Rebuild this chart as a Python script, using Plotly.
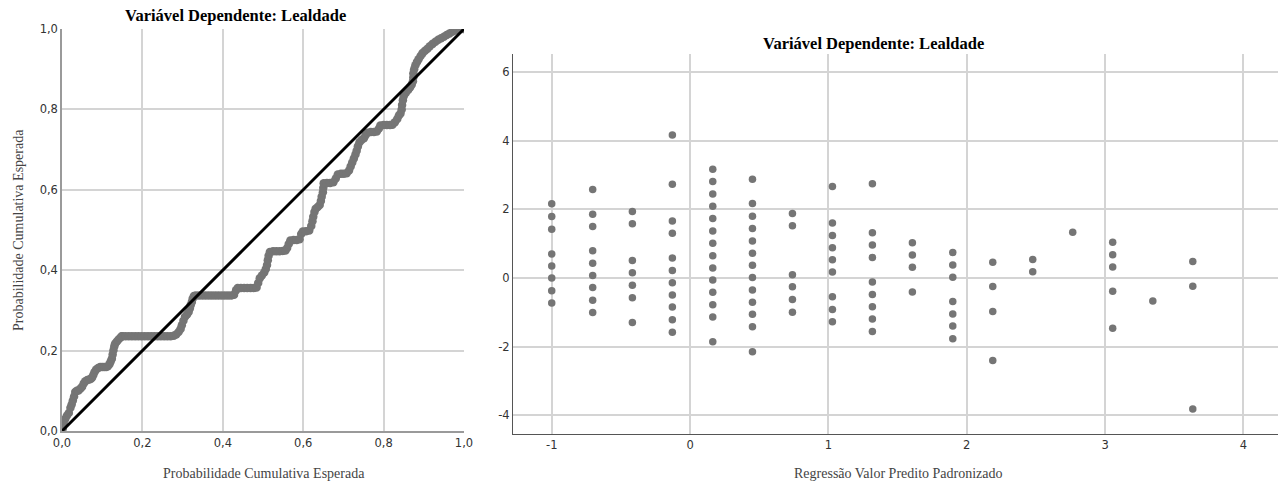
import plotly.graph_objects as go

# ---------------- Left panel: P-P plot ----------------
pp_observed = [
    0.002, 0.004, 0.008, 0.012, 0.017, 0.021, 0.024, 0.027, 0.030, 0.033,
    0.037, 0.041, 0.046, 0.050, 0.054, 0.058, 0.063, 0.068, 0.072, 0.075,
    0.078, 0.081, 0.085, 0.090, 0.095, 0.100, 0.105, 0.110, 0.114, 0.118,
    0.121, 0.124, 0.126, 0.128, 0.130, 0.132, 0.136, 0.140, 0.145, 0.149,
    0.150, 0.158, 0.166, 0.174, 0.182, 0.190, 0.198, 0.206, 0.214, 0.222,
    0.230, 0.238, 0.246, 0.254, 0.262, 0.270, 0.278,
    0.284, 0.290, 0.295, 0.298, 0.302, 0.306, 0.311, 0.315, 0.318, 0.320,
    0.323, 0.325, 0.328,
    0.333, 0.341, 0.349, 0.357, 0.365, 0.373, 0.381, 0.389, 0.397, 0.405,
    0.413, 0.421, 0.428,
    0.433, 0.437, 0.445, 0.453, 0.461, 0.469, 0.477, 0.484,
    0.488, 0.492, 0.497, 0.503, 0.507, 0.510, 0.512, 0.514, 0.517,
    0.525, 0.533, 0.541, 0.549, 0.556,
    0.560, 0.564, 0.568, 0.576, 0.584, 0.591,
    0.595, 0.599, 0.607, 0.615,
    0.620, 0.623, 0.625, 0.628, 0.631, 0.636, 0.641, 0.644, 0.646, 0.649,
    0.650, 0.651, 0.659, 0.667, 0.675, 0.681, 0.686, 0.694, 0.701, 0.708,
    0.714, 0.718, 0.722, 0.726, 0.730, 0.733, 0.736, 0.740, 0.745, 0.751,
    0.755, 0.760, 0.768, 0.776, 0.783, 0.788, 0.792, 0.800, 0.808, 0.816,
    0.822, 0.828, 0.834, 0.838, 0.842,
    0.845, 0.846, 0.848, 0.850, 0.855, 0.861, 0.866, 0.870, 0.873, 0.874,
    0.874, 0.876, 0.879, 0.883, 0.887, 0.892, 0.897, 0.903, 0.909, 0.915,
    0.922, 0.929, 0.936, 0.943, 0.950, 0.957, 0.964, 0.971, 0.978, 0.985,
    0.992, 0.998,
]
pp_expected = [
    0.006, 0.020, 0.030, 0.038, 0.045, 0.058, 0.066, 0.076, 0.086, 0.097,
    0.100, 0.101, 0.106, 0.110, 0.118, 0.124, 0.127, 0.128, 0.130, 0.133,
    0.140, 0.147, 0.153, 0.157, 0.159, 0.159, 0.159, 0.159, 0.161, 0.166,
    0.173, 0.180, 0.190, 0.201, 0.210, 0.217, 0.222, 0.227, 0.232, 0.236,
    0.236, 0.236, 0.236, 0.236, 0.236, 0.236, 0.236, 0.236, 0.236, 0.236,
    0.236, 0.236, 0.236, 0.236, 0.236, 0.236, 0.237,
    0.240, 0.246, 0.254, 0.263, 0.274, 0.284, 0.290, 0.296, 0.305, 0.313,
    0.321, 0.329, 0.336,
    0.337, 0.337, 0.337, 0.337, 0.337, 0.337, 0.337, 0.337, 0.337, 0.337,
    0.337, 0.337, 0.339,
    0.350, 0.356, 0.356, 0.356, 0.356, 0.356, 0.356, 0.357,
    0.368, 0.380, 0.387, 0.394, 0.403, 0.413, 0.425, 0.436, 0.445,
    0.447, 0.447, 0.447, 0.448, 0.449,
    0.455, 0.465, 0.474, 0.475, 0.475, 0.477,
    0.490, 0.496, 0.497, 0.499,
    0.510, 0.522, 0.533, 0.545, 0.553, 0.557, 0.562, 0.572, 0.583, 0.594,
    0.605, 0.616, 0.617, 0.617, 0.619, 0.628, 0.638, 0.640, 0.640, 0.641,
    0.648, 0.658, 0.668, 0.678, 0.688, 0.697, 0.708, 0.718, 0.724, 0.728,
    0.736, 0.742, 0.744, 0.744, 0.745, 0.752, 0.760, 0.761, 0.761, 0.761,
    0.762, 0.768, 0.776, 0.785, 0.790,
    0.800, 0.811, 0.823, 0.833, 0.841, 0.848, 0.855, 0.862, 0.870, 0.880,
    0.890, 0.900, 0.910, 0.918, 0.925, 0.933, 0.940, 0.946, 0.951, 0.957,
    0.963, 0.968, 0.973, 0.977, 0.981, 0.985, 0.989, 0.993, 0.996, 0.998,
    1.000, 1.000,
]
ref_line = [0.0, 1.0]
pp_ticks = [0.0, 0.2, 0.4, 0.6, 0.8, 1.0]

# ---------------- Right panel: residual scatter ----------------
pred_columns = [-1.000, -0.704, -0.417, -0.128, 0.164, 0.451, 0.740, 1.029,
                1.318, 1.607, 1.899, 2.188, 2.477, 2.766, 3.055, 3.345, 3.634]
resid_columns = [
    [2.16, 1.79, 1.42, 0.70, 0.35, 0.00, -0.37, -0.73],
    [2.58, 1.86, 1.50, 0.79, 0.43, 0.07, -0.28, -0.65, -1.01],
    [1.94, 1.58, 0.51, 0.15, -0.21, -0.58, -1.30],
    [4.17, 2.73, 1.66, 1.30, 0.58, 0.22, -0.14, -0.50, -0.85, -1.22, -1.58],
    [3.17, 2.81, 2.45, 2.09, 1.73, 1.37, 1.01, 0.65, 0.29, -0.06, -0.42,
     -0.78, -1.14, -1.86],
    [2.88, 2.17, 1.80, 1.44, 1.08, 0.72, 0.37, 0.01, -0.35, -0.71, -1.06,
     -1.42, -2.15],
    [1.88, 1.52, 0.09, -0.26, -0.63, -1.00],
    [2.67, 1.60, 1.24, 0.88, 0.53, 0.17, -0.55, -0.92, -1.28],
    [2.75, 1.32, 0.96, 0.60, -0.12, -0.48, -0.84, -1.20, -1.56],
    [1.03, 0.67, 0.31, -0.41],
    [0.74, 0.38, 0.02, -0.69, -1.05, -1.40, -1.77],
    [0.46, -0.25, -0.98, -2.41],
    [0.54, 0.18],
    [1.33],
    [1.04, 0.68, 0.32, -0.39, -1.47],
    [-0.67],
    [0.48, -0.24, -3.82],
]
x_ticks = [-1, 0, 1, 2, 3, 4]
x_ticktext = ["-1", "0", "1", "2", "3", "4"]
y_ticks = [6, 4, 2, 0, -2, -4]
y_ticktext = ["6", "4", "2", "0", "-2", "-4"]

pred_vals = []
resid_vals = []
for px, col in zip(pred_columns, resid_columns):
    for r in col:
        pred_vals.append(px)
        resid_vals.append(r)

W, H = 1280, 482
def fx(p):
    return p / W
def fy(p):
    return 1 - p / H

MARK = "#757575"
GRID = "#d4d4d4"
TICKFONT = dict(family="DejaVu Sans", size=11.5, color="#333333")
SERIF = "Liberation Serif"

fig = go.Figure()
fig.add_trace(go.Scatter(
    x=pp_observed, y=pp_expected, mode="markers",
    marker=dict(color=MARK, size=8.5, line=dict(width=0)),
    xaxis="x", yaxis="y", showlegend=False, hoverinfo="x+y"))
fig.add_trace(go.Scatter(
    x=ref_line, y=ref_line, mode="lines",
    line=dict(color="black", width=3),
    xaxis="x", yaxis="y", showlegend=False, cliponaxis=False))
fig.add_trace(go.Scatter(
    x=pred_vals, y=resid_vals, mode="markers",
    marker=dict(color=MARK, size=7.5, line=dict(width=0)),
    xaxis="x2", yaxis="y2", showlegend=False))

common = dict(showgrid=True, gridcolor=GRID, gridwidth=1.5, zeroline=False,
              ticks="", tickfont=TICKFONT, automargin=False)
fig.update_layout(
    width=W, height=H,
    margin=dict(l=0, r=0, t=0, b=0, autoexpand=False),
    paper_bgcolor="white", plot_bgcolor="white",
    separators=",.",
    xaxis=dict(domain=[fx(62), fx(464)], range=[0, 1], tickvals=pp_ticks,
               tickformat=".1f", showline=True, linecolor="#9a9a9a",
               linewidth=1.5, anchor="y", **common),
    yaxis=dict(domain=[1 - 431 / H, 1 - 29 / H], range=[0, 1], tickvals=pp_ticks,
               tickformat=".1f", showline=True, linecolor="#9a9a9a",
               linewidth=1.5, anchor="x", **common),
    xaxis2=dict(domain=[fx(513), fx(1278)], range=[-1.28, 4.25], tickvals=x_ticks,
                ticktext=x_ticktext, showline=True, linecolor="#555555",
                linewidth=1.2, anchor="y2", **common),
    yaxis2=dict(domain=[1 - 434 / H, 1 - 54 / H], range=[-4.55, 6.53],
                tickvals=y_ticks, ticktext=y_ticktext, showline=True,
                linecolor="#555555", linewidth=1.2, anchor="x2", **common),
)

title_font = dict(family=SERIF, size=16.5, color="black")
axis_font = dict(family=SERIF, size=14, color="#444444")
ann = [
    dict(text="<b>Variável Dependente: Lealdade</b>", x=fx(235), y=fy(15),
         font=title_font),
    dict(text="<b>Variável Dependente: Lealdade</b>", x=fx(873), y=fy(43),
         font=title_font),
    dict(text="Probabilidade Cumulativa Esperada", x=fx(264), y=fy(473),
         font=axis_font),
    dict(text="Probabilidade Cumulativa Esperada", x=fx(18), y=fy(230),
         font=axis_font, textangle=-90),
    dict(text="Regressão Valor Predito Padronizado", x=fx(898), y=fy(473),
         font=axis_font),
]
for a in ann:
    fig.add_annotation(xref="paper", yref="paper", showarrow=False,
                       xanchor="center", yanchor="middle", **a)

fig.write_html(
    "out.html",
    config={"displayModeBar": False},
    post_script="document.body.style.margin='0';document.body.style.overflow='hidden';",
)
